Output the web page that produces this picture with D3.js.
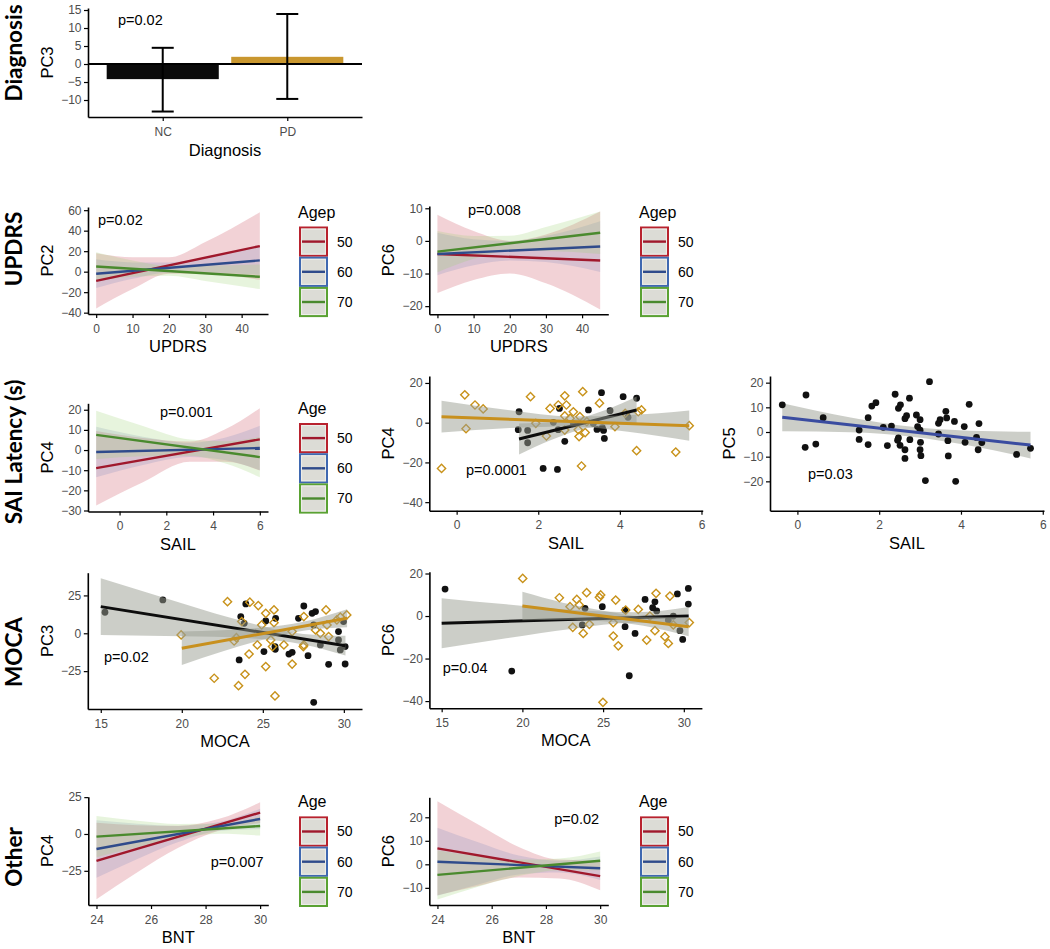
<!DOCTYPE html>
<html>
<head>
<meta charset="utf-8">
<script src="https://cdnjs.cloudflare.com/ajax/libs/d3/7.8.5/d3.min.js"></script>
<style>
  body { margin: 0; background: #fff; }
  svg text { font-family: "Liberation Sans", Arial, sans-serif; }
</style>
</head>
<body>
<script>
// ---------------- data ----------------
var diagCats = ["NC", "PD"];
var diagMean = [-4.2, 2.0];
var diagLow = [-13.2, -9.7];
var diagHigh = [4.5, 13.9];

var ageGroups = ["50", "60", "70"];

// fitted lines + confidence bands: band rows are [x, lower, upper]
var updrsPC2Fits = [
  { age: "50", line: [[0, -9], [45, 25]], band: [[0, -36, 18], [10, -17, 14], [20, -2, 14], [30, -2, 29], [45, -8, 58]] },
  { age: "60", line: [[0, -2], [45, 11]], band: [[0, -16, 12], [10, -7, 9], [20, -1, 9], [30, -1, 14], [45, -3, 25]] },
  { age: "70", line: [[0, 5], [45, -5]], band: [[0, -9, 19], [10, -5, 11], [20, -4, 6], [30, -9, 6], [45, -17, 7]] }
];
var updrsPC6Fits = [
  { age: "50", line: [[0, -4], [45, -6]], band: [[0, -16, 8], [10, -12, 3], [20, -10, 0], [30, -13, 2], [45, -21, 9]] },
  { age: "60", line: [[0, -4], [45, -1.7]], band: [[0, -10.5, 2.5], [10, -7.5, 0.5], [20, -6, 0], [30, -6.5, 1.5], [45, -9.5, 6]] },
  { age: "70", line: [[0, -3.3], [45, 2.5]], band: [[0, -9.6, 3], [10, -5.5, 1.5], [20, -3, 1.6], [30, -3.1, 4.3], [45, -4, 9]] }
];
var sailAgeFits = [
  { age: "50", line: [[-1, -9], [6, 5.3]], band: [[-1, -27.5, 9.5], [1, -16, 6], [3, -5.8, 4.2], [4.5, -5.8, 10.2], [6, -10.2, 20.8]] },
  { age: "60", line: [[-1, -1], [6, 1]], band: [[-1, -13.5, 11.5], [1, -7.4, 6.6], [3, -3.4, 3.6], [4.5, -4.9, 6.1], [6, -10, 12]] },
  { age: "70", line: [[-1, 7.5], [6, -3.5]], band: [[-1, -4.5, 19.5], [1, -3.1, 11.9], [3, -2.8, 5.2], [4.5, -6.6, 4.4], [6, -13.5, 6.5]] }
];
var bntPC4Fits = [
  { age: "50", line: [[24, -18.3], [30, 14.5]], band: [[24, -44.3, 7.7], [25.5, -26, 6], [27, -9.4, 5.6], [28.5, 2.3, 10.3], [30, 7.5, 21.5]] },
  { age: "60", line: [[24, -10.2], [30, 10.2]], band: [[24, -29.7, 9.3], [25.5, -17, 7], [27, -5.5, 5.5], [28.5, 2.1, 8.1], [30, 3.2, 17.2]] },
  { age: "70", line: [[24, -1.8], [30, 5.4]], band: [[24, -15.8, 12.2], [25.5, -9, 9], [27, -3.2, 6.8], [28.5, 0.1, 7.1], [30, -1.1, 11.9]] }
];
var bntPC6Fits = [
  { age: "50", line: [[24, 6.8], [30, -5]], band: [[24, -13.2, 26.8], [25.5, -9.2, 16.9], [27, -5.6, 7.4], [28.5, -6, 2], [30, -11, 1.5]] },
  { age: "60", line: [[24, 1.1], [30, -1.7]], band: [[24, -13.4, 15.6], [25.5, -8.6, 9.4], [27, -4.3, 3.7], [28.5, -3.5, 1.5], [30, -6.7, 3.3]] },
  { age: "70", line: [[24, -4.5], [30, 1.5]], band: [[24, -15, 6], [25.5, -9.5, 3.5], [27, -5, 2], [28.5, -2.5, 2.5], [30, -2.5, 5.5]] }
];

var sailPC4Fits = [
  { grp: "NC", line: [[1.53, -8.2], [4.41, 6.4]], band: [[1.53, -16, -0.4], [2.3, -8.8, 0.2], [3.0, -3.75, 2.25], [3.7, -1.2, 6.8], [4.41, -0.4, 13.2]] },
  { grp: "PD", line: [[-0.37, 3.0], [5.7, -1.5]], band: [[-0.37, -5, 11], [1.3, -2.7, 6.3], [2.8, -1.9, 3.2], [4.2, -4.6, 3.8], [5.7, -9.1, 6.1]] }
];
var sailPC5Fits = [
  { grp: "all", line: [[-0.37, 6.0], [5.7, -5.3]], band: [[-0.37, 0.3, 11.7], [1.3, -0.1, 5.9], [2.8, -1.9, 2.1], [4.2, -5.5, 0.5], [5.7, -10.7, 0.1]] }
];
var mocaPC3Fits = [
  { grp: "NC", line: [[15, 17.6], [30.1, -8.2]], band: [[15, -1.1, 36.3], [19, -1.8, 23.2], [23, -2.7, 10.3], [27.5, -7.4, -0.4], [30.1, -14.7, -1.7]] },
  { grp: "PD", line: [[20, -9.9], [30.2, 9.9]], band: [[20, -20.9, 1.1], [22.5, -12, 2], [25, -4.2, 3.8], [27.5, 1.65, 7.65], [30.2, 3.9, 15.9]] }
];
var mocaPC6Fits = [
  { grp: "NC", line: [[15, -3.4], [30.3, 0]], band: [[15, -15.2, 8.4], [19, -10.5, 5.5], [23, -6.1, 2.9], [27, -3.2, 1.8], [30.3, -4.3, 4.3]] },
  { grp: "PD", line: [[20, 4.7], [30.3, -5]], band: [[20, -2, 11.4], [22.5, -1.7, 6.3], [25, -2.5, 2.5], [27.5, -4.6, -0.2], [30.3, -9.5, -0.5]] }
];

// scatter points [x, y]
var sailPC4_NC = [[1.53,5.5],[1.51,-3.5],[1.74,-3.9],[1.74,-10.1],[2.12,-23.0],[2.47,-23.5],[2.52,7.2],[2.37,0.2],[2.65,-9.4],[2.49,-3.5],[3.23,6.4],[3.55,15.1],[3.44,-3.4],[3.57,-2.5],[3.6,-3.9],[3.62,-7.9],[3.76,6.0],[4.08,13.1],[4.2,2.7],[4.41,12.3],[2.86,-0.6],[3.35,-0.4]];
var sailPC4_PD = [[-0.37,-23.0],[0.2,14.0],[0.23,-3.0],[0.45,8.9],[0.65,6.9],[1.81,13.1],[1.94,-0.3],[2.2,-6.7],[2.29,7.2],[2.49,8.9],[2.65,13.5],[2.69,8.9],[2.65,3.4],[2.78,2.2],[2.65,-3.7],[2.86,5.5],[3.02,3.0],[3.09,15.6],[2.98,-3.5],[3.0,-7.0],[3.06,-21.8],[3.15,-5.0],[3.19,0.5],[3.5,9.8],[3.88,-2.0],[4.13,4.7],[4.41,-14.1],[4.45,5.5],[4.53,6.4],[5.37,-14.8],[5.7,-1.5]];
var sailPC5_all = [[-0.37,11.0],[0.21,15.0],[0.19,-6.2],[0.45,-4.9],[0.63,5.8],[1.51,0.8],[1.51,-3.0],[1.73,5.8],[1.73,-5.1],[1.82,10.5],[1.92,11.9],[2.1,1.9],[2.2,-5.5],[2.3,2.4],[2.39,15.3],[2.47,9.6],[2.52,11.0],[2.47,-2.4],[2.51,-5.4],[2.63,5.4],[2.67,6.6],[2.63,-7.2],[2.63,-10.7],[2.74,13.7],[2.75,-3.1],[2.91,6.9],[2.94,2.2],[3.0,5.0],[3.0,0.7],[3.01,-4.2],[3.0,-7.2],[3.02,-9.6],[3.13,-19.7],[3.23,20.4],[3.45,3.5],[3.49,5.0],[3.45,-0.8],[3.63,8.4],[3.65,5.7],[3.68,-3.5],[3.69,-9.7],[3.84,4.3],[3.87,-20.0],[4.08,2.2],[4.1,-4.2],[4.2,11.2],[4.44,3.4],[4.38,-2.2],[4.42,-7.2],[4.51,-4.3],[5.36,-9.1],[5.7,-6.6],[2.45,-3.3]];
var mocaPC3_NC = [[15.26,13.9],[18.83,22.0],[23.95,19.4],[23.64,11.0],[23.85,6.6],[25.18,8.1],[25.79,9.9],[23.54,-17.6],[25.07,-12.1],[25.75,-8.8],[25.77,-10.6],[26.61,-13.7],[26.81,-12.6],[27.53,18.0],[27.2,9.9],[28.04,13.2],[28.25,14.3],[28.14,5.5],[27.79,-14.8],[28.55,-7.7],[29.06,-20.5],[29.67,1.1],[29.67,-4.4],[29.78,-11.0],[30.08,-8.8],[30.08,-20.3],[29.98,7.7],[28.14,-45.6]];
var mocaPC3_PD = [[19.96,-1.1],[22.82,20.9],[24.2,20.5],[24.72,18.3],[25.18,13.2],[25.69,15.4],[23.7,7.7],[23.23,-5.1],[23.37,-2.9],[24.15,-13.7],[24.66,-7.7],[25.18,-22.0],[24.93,5.5],[25.69,7.0],[25.49,-4.4],[25.6,-8.8],[26.3,-7.7],[26.81,1.1],[26.81,-20.3],[27.53,11.0],[27.53,-7.7],[28.25,2.2],[28.55,0],[28.9,15.4],[28.96,5.5],[29.06,-2.2],[29.57,8.8],[29.78,10.6],[30.18,12.1],[22.0,-29.7],[23.5,-34.6],[23.9,-27.1],[25.75,-41.4],[27.5,-8.8]];
var mocaPC6_NC = [[15.21,12.7],[19.34,-25.9],[26.62,-28.1],[23.71,-4.2],[23.88,3.6],[24.95,4.4],[26.36,2.8],[26.36,-5.0],[26.98,-8.2],[27.6,7.8],[28.21,6.7],[28.07,3.9],[28.32,2.4],[29.04,-1.9],[29.6,10.4],[30.28,13.0],[30.28,5.6],[29.76,-6.9],[29.93,-11.0],[29.35,0]];
var mocaPC6_PD = [[20.02,17.7],[22.29,8.6],[22.95,4.4],[23.37,7.8],[23.98,11.0],[23.52,5.2],[23.12,-5.3],[23.77,-8.2],[24.15,-3.9],[24.77,8.8],[24.85,9.9],[25.78,7.5],[25.63,-3.1],[25.63,-9.4],[25.94,-14.0],[26.4,2.8],[27.18,3.1],[27.7,-11.3],[28.21,-6.9],[27.9,0],[28.28,10.7],[28.83,-9.7],[29.04,-12.9],[29.14,9.4],[29.35,-4.2],[30.34,-3.1],[24.99,-40.6]];

// ---------------- styles ----------------
var lineColor = { "50": "#a0182c", "60": "#2f4b8b", "70": "#4a8a2e" };
var keyStroke = { "50": "#b8222e", "60": "#3f68b0", "70": "#5aa233" };
var bandFill = { "50": "#cf5a66", "60": "#6f7fb8", "70": "#9ccf70" };
var bandOp = { "50": 0.27, "60": 0.2, "70": 0.24 };
var grpColor = { NC: "#0d0d0d", PD: "#c8901e", all: "#3a4ca0" };
var gold = "#c8921a";
var tickGray = "#4d4d4d";
var fmt = d3.format("~g");

var svg = d3.select("body").append("svg")
  .attr("width", 1050)
  .attr("height", 949);

function styleAxis(sel) {
  sel.attr("font-family", null);
  sel.select(".domain").attr("stroke", "#000").attr("stroke-width", 1.6);
  sel.selectAll(".tick line").attr("stroke", "#000").attr("stroke-width", 1.2);
  sel.selectAll(".tick text").attr("fill", tickGray).attr("font-size", 12);
}

function panel(o) {
  var g = svg.append("g");
  var x = d3.scaleLinear().domain(o.xdom).range([o.x0, o.x1]);
  var y = d3.scaleLinear().domain(o.ydom).range([o.y1, o.y0]);
  var marks = g.append("g");
  var xa = g.append("g").attr("transform", "translate(0," + o.y1 + ")")
    .call(d3.axisBottom(x).tickValues(o.xticks).tickFormat(fmt).tickSize(4).tickSizeOuter(0).tickPadding(6));
  var ya = g.append("g").attr("transform", "translate(" + o.x0 + ",0)")
    .call(d3.axisLeft(y).tickValues(o.yticks).tickFormat(fmt).tickSize(4).tickSizeOuter(0).tickPadding(2.5));
  styleAxis(xa); styleAxis(ya);
  g.append("text").attr("x", (o.x0 + o.x1) / 2).attr("y", o.y1 + 38)
    .attr("text-anchor", "middle").attr("font-size", 16.5).text(o.xtitle);
  g.append("text").attr("transform", "translate(" + (o.x0 - 35) + "," + ((o.y0 + o.y1) / 2) + ") rotate(-90)")
    .attr("text-anchor", "middle").attr("font-size", 16.5).text(o.ytitle);
  g.append("text").attr("x", o.px).attr("y", o.py).attr("font-size", 14.5).text(o.p);
  return { g: marks, x: x, y: y };
}

function band(p) {
  return d3.area()
    .x(function (d) { return p.x(d[0]); })
    .y0(function (d) { return p.y(d[1]); })
    .y1(function (d) { return p.y(d[2]); })
    .curve(d3.curveMonotoneX);
}
function fitLine(p) {
  return d3.line()
    .x(function (d) { return p.x(d[0]); })
    .y(function (d) { return p.y(d[1]); });
}

function drawAgeFits(p, fits) {
  fits.forEach(function (f) {
    p.g.append("path").datum(f.band).attr("d", band(p))
      .attr("fill", bandFill[f.age]).attr("fill-opacity", bandOp[f.age]);
  });
  fits.forEach(function (f) {
    p.g.append("path").datum(f.line).attr("d", fitLine(p))
      .attr("fill", "none").attr("stroke", lineColor[f.age]).attr("stroke-width", 2.4);
  });
}

function drawGrpFits(p, fits) {
  var out = [];
  fits.forEach(function (f) {
    p.g.append("path").datum(f.band).attr("d", band(p))
      .attr("fill", "#999d92").attr("fill-opacity", 0.5);
    out.push(p.g.append("path").datum(f.line).attr("d", fitLine(p))
      .attr("fill", "none").attr("stroke", grpColor[f.grp]).attr("stroke-width", 3));
  });
  return out;
}

function dots(p, pts) {
  p.g.selectAll(null).data(pts).enter().append("circle")
    .attr("cx", function (d) { return p.x(d[0]); })
    .attr("cy", function (d) { return p.y(d[1]); })
    .attr("r", 3.4).attr("fill", "#111");
}
function diamonds(p, pts) {
  var sym = d3.symbol().type(d3.symbolSquare).size(34);
  p.g.selectAll(null).data(pts).enter().append("path")
    .attr("d", sym)
    .attr("transform", function (d) { return "translate(" + p.x(d[0]) + "," + p.y(d[1]) + ") rotate(45)"; })
    .attr("fill", "none").attr("stroke", gold).attr("stroke-width", 1.4);
}

function legend(bx, baseline, title) {
  svg.append("text").attr("x", bx - 1).attr("y", baseline).attr("font-size", 16).text(title);
  ageGroups.forEach(function (a, i) {
    var top = baseline + 9 + i * 30.2;
    svg.append("rect").attr("x", bx + 1).attr("y", top + 1).attr("width", 27).attr("height", 28.2)
      .attr("fill", "#dcdcd6").attr("stroke", keyStroke[a]).attr("stroke-width", 2);
    svg.append("rect").attr("x", bx + 2.6).attr("y", top + 2.6).attr("width", 23.8).attr("height", 25)
      .attr("fill", "none").attr("stroke", "#eeeeea").attr("stroke-width", 1);
    svg.append("line").attr("x1", bx + 3).attr("x2", bx + 26).attr("y1", top + 15.1).attr("y2", top + 15.1)
      .attr("stroke", lineColor[a]).attr("stroke-width", 2.4);
    svg.append("text").attr("x", bx + 38).attr("y", top + 15.1).attr("dy", "0.35em")
      .attr("font-size", 14).text(a);
  });
}

function rowLabel(cy, label) {
  svg.append("text")
    .attr("transform", "translate(22," + cy + ") rotate(-90)")
    .attr("text-anchor", "middle")
    .style("font-family", "Lato, 'Open Sans', sans-serif")
    .attr("font-weight", 700).attr("font-size", 22.5)
    .text(label);
}

// ---------------- Diagnosis bar panel ----------------
(function () {
  var x0 = 88, x1 = 362, y0 = 8, y1 = 117;
  var xp = d3.scalePoint().domain(diagCats).range([x0, x1]).padding(0.6);
  var y = d3.scaleLinear().domain([-14.72, 15.56]).range([y1, y0]);
  var bw = xp.step() * 0.9;
  var g = svg.append("g");
  g.selectAll("rect.bar").data(diagCats).enter().append("rect")
    .attr("x", function (d) { return xp(d) - bw / 2; })
    .attr("width", bw)
    .attr("y", function (d, i) { return y(Math.max(0, diagMean[i])); })
    .attr("height", function (d, i) { return Math.abs(y(diagMean[i]) - y(0)); })
    .attr("fill", function (d) { return d === "NC" ? "#0a0a0a" : "#c9972f"; });
  g.append("line").attr("x1", x0).attr("x2", x1).attr("y1", y(0)).attr("y2", y(0))
    .attr("stroke", "#000").attr("stroke-width", 2);
  diagCats.forEach(function (c, i) {
    var cx = xp(c);
    g.append("line").attr("x1", cx).attr("x2", cx).attr("y1", y(diagLow[i])).attr("y2", y(diagHigh[i]))
      .attr("stroke", "#000").attr("stroke-width", 2);
    [diagLow[i], diagHigh[i]].forEach(function (v) {
      g.append("line").attr("x1", cx - 11).attr("x2", cx + 11).attr("y1", y(v)).attr("y2", y(v))
        .attr("stroke", "#000").attr("stroke-width", 2);
    });
  });
  var xa = g.append("g").attr("transform", "translate(0," + y1 + ")")
    .call(d3.axisBottom(xp).tickSize(4).tickSizeOuter(0).tickPadding(6));
  var ya = g.append("g").attr("transform", "translate(" + x0 + ",0)")
    .call(d3.axisLeft(y).tickValues([-10, -5, 0, 5, 10, 15]).tickFormat(fmt).tickSize(4).tickSizeOuter(0).tickPadding(2.5));
  styleAxis(xa); styleAxis(ya);
  g.append("text").attr("x", (x0 + x1) / 2).attr("y", y1 + 39).attr("text-anchor", "middle")
    .attr("font-size", 16.5).text("Diagnosis");
  g.append("text").attr("transform", "translate(" + (x0 - 35) + "," + ((y0 + y1) / 2) + ") rotate(-90)")
    .attr("text-anchor", "middle").attr("font-size", 16.5).text("PC3");
  g.append("text").attr("x", 118).attr("y", 25).attr("font-size", 14.5).text("p=0.02");
})();

// ---------------- UPDRS ----------------
var pU2 = panel({ x0: 88, x1: 268, y0: 207, y1: 314, xdom: [-2.25, 47.25], ydom: [-41.3, 63.1],
  xticks: [0, 10, 20, 30, 40], yticks: [-40, -20, 0, 20, 40, 60], xtitle: "UPDRS", ytitle: "PC2",
  p: "p=0.02", px: 98, py: 225 });
drawAgeFits(pU2, updrsPC2Fits);
legend(299, 217.5, "Agep");

var pU6 = panel({ x0: 429.3, x1: 608.3, y0: 206, y1: 314.3, xdom: [-2.25, 47.25], ydom: [-22.5, 10.7],
  xticks: [0, 10, 20, 30, 40], yticks: [-20, -10, 0, 10], xtitle: "UPDRS", ytitle: "PC6",
  p: "p=0.008", px: 468, py: 215 });
drawAgeFits(pU6, updrsPC6Fits);
legend(640, 217.5, "Agep");

// ---------------- SAI latency ----------------
var pS4a = panel({ x0: 88, x1: 268, y0: 403.3, y1: 511.5, xdom: [-1.35, 6.35], ydom: [-30.5, 23.2],
  xticks: [0, 2, 4, 6], yticks: [-30, -20, -10, 0, 10, 20], xtitle: "SAIL", ytitle: "PC4",
  p: "p=0.001", px: 160, py: 416.7 });
drawAgeFits(pS4a, sailAgeFits);
legend(299, 414, "Age");

var pS4 = panel({ x0: 429.3, x1: 702.7, y0: 376, y1: 510.7, xdom: [-0.67, 6.03], ydom: [-44.3, 23.5],
  xticks: [0, 2, 4, 6], yticks: [-40, -20, 0, 20], xtitle: "SAIL", ytitle: "PC4",
  p: "p=0.0001", px: 466, py: 475 });
dots(pS4, sailPC4_NC);
diamonds(pS4, sailPC4_PD);
drawGrpFits(pS4, sailPC4Fits);

var pS5 = panel({ x0: 770, x1: 1044, y0: 376, y1: 510.7, xdom: [-0.67, 6.03], ydom: [-31.9, 22.7],
  xticks: [0, 2, 4, 6], yticks: [-20, -10, 0, 10, 20], xtitle: "SAIL", ytitle: "PC5",
  p: "p=0.03", px: 808, py: 479 });
var s5lines = drawGrpFits(pS5, sailPC5Fits);
dots(pS5, sailPC5_all);
s5lines.forEach(function (l) { l.raise(); });

// ---------------- MOCA ----------------
var pM3 = panel({ x0: 87.8, x1: 362, y0: 572.7, y1: 709, xdom: [14.2, 31.12], ydom: [-50, 40],
  xticks: [15, 20, 25, 30], yticks: [-25, 0, 25], xtitle: "MOCA", ytitle: "PC3",
  p: "p=0.02", px: 104, py: 661.7 });
dots(pM3, mocaPC3_NC);
diamonds(pM3, mocaPC3_PD);
drawGrpFits(pM3, mocaPC3Fits);

var pM6 = panel({ x0: 429.4, x1: 701.9, y0: 571.7, y1: 708.3, xdom: [14.24, 31.12], ydom: [-43.4, 20.85],
  xticks: [15, 20, 25, 30], yticks: [-40, -20, 0, 20], xtitle: "MOCA", ytitle: "PC6",
  p: "p=0.04", px: 442.7, py: 673.3 });
dots(pM6, mocaPC6_NC);
diamonds(pM6, mocaPC6_PD);
drawGrpFits(pM6, mocaPC6Fits);

// ---------------- Other ----------------
var pB4 = panel({ x0: 88.3, x1: 268.3, y0: 796.7, y1: 905, xdom: [23.7, 30.3], ydom: [-48.2, 25.3],
  xticks: [24, 26, 28, 30], yticks: [-25, 0, 25], xtitle: "BNT", ytitle: "PC4",
  p: "p=0.007", px: 210.7, py: 866.7 });
drawAgeFits(pB4, bntPC4Fits);
legend(299, 807.4, "Age");

var pB6 = panel({ x0: 429.3, x1: 608.3, y0: 797.3, y1: 905, xdom: [23.7, 30.3], ydom: [-17.3, 28.5],
  xticks: [24, 26, 28, 30], yticks: [-10, 0, 10, 20], xtitle: "BNT", ytitle: "PC6",
  p: "p=0.02", px: 554.3, py: 824 });
drawAgeFits(pB6, bntPC6Fits);
legend(640, 807.4, "Age");

// ---------------- row labels ----------------
rowLabel(53, "Diagnosis");
rowLabel(249, "UPDRS");
rowLabel(452, "SAI Latency (s)");
rowLabel(652, "MOCA");
rowLabel(857, "Other");
</script>
</body>
</html>
